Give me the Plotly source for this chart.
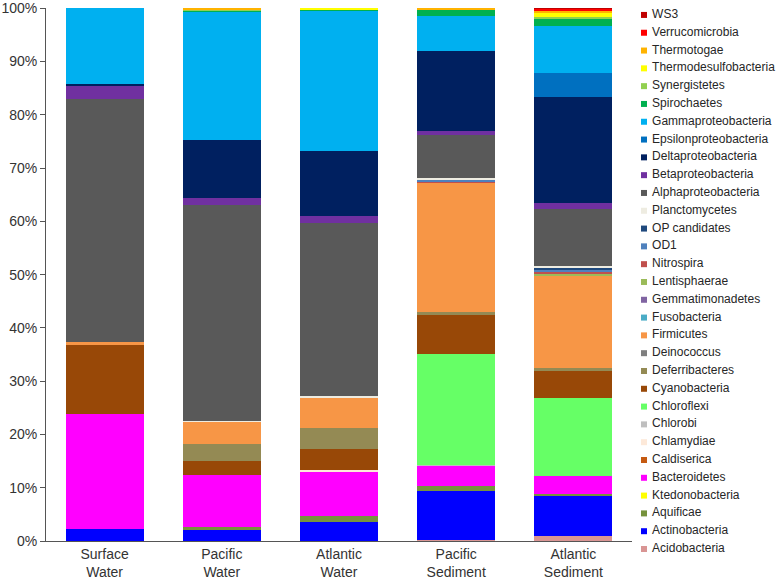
import plotly.graph_objects as go

samples = ["Surface<br>Water", "Pacific<br>Water", "Atlantic<br>Water", "Pacific<br>Sediment", "Atlantic<br>Sediment"]

# taxa listed bottom (first stacked) to top
taxa = ["Acidobacteria", "Actinobacteria", "Aquificae", "Ktedonobacteria", "Bacteroidetes",
        "Caldiserica", "Chlamydiae", "Chlorobi", "Chloroflexi", "Cyanobacteria",
        "Deferribacteres", "Deinococcus", "Firmicutes", "Fusobacteria", "Gemmatimonadetes",
        "Lentisphaerae", "Nitrospira", "OD1", "OP candidates", "Planctomycetes",
        "Alphaproteobacteria", "Betaproteobacteria", "Deltaproteobacteria", "Epsilonproteobacteria",
        "Gammaproteobacteria", "Spirochaetes", "Synergistetes", "Thermodesulfobacteria",
        "Thermotogae", "Verrucomicrobia", "WS3"]

colors = ["#D99594", "#0000FF", "#76923C", "#FFFF00", "#FF00FF",
          "#C55A11", "#FDE9D9", "#BFBFBF", "#66FF66", "#984807",
          "#948A54", "#7F7F7F", "#F79646", "#4BACC6", "#8064A2",
          "#9BBB59", "#C0504D", "#4F81BD", "#1F497D", "#EEECE1",
          "#595959", "#7030A0", "#002060", "#0070C0",
          "#00B0F0", "#00B050", "#92D050", "#FFFF00",
          "#FFB300", "#FF0000", "#C00000"]

surface_water = [0, 2.2, 0, 0, 21.6, 0, 0, 0, 0, 13.0,
                 0, 0, 0.6, 0, 0, 0, 0, 0, 0, 0,
                 45.5, 2.6, 0.3, 0, 14.2, 0, 0, 0, 0, 0, 0]
pacific_water = [0, 2.0, 0.6, 0, 9.7, 0, 0, 0, 0, 2.8,
                 3.1, 0, 4.2, 0, 0, 0, 0, 0, 0, 0.2,
                 40.5, 1.2, 11.0, 0, 24.1, 0.2, 0.1, 0, 0.3, 0, 0]
atlantic_water = [0, 3.6, 1.0, 0, 8.5, 0, 0.2, 0, 0, 3.9,
                  4.1, 0, 5.6, 0, 0, 0, 0, 0, 0, 0.4,
                  32.3, 1.4, 12.2, 0, 26.3, 0.2, 0, 0.3, 0, 0, 0]
pacific_sediment = [0.2, 9.2, 1.0, 0, 3.7, 0, 0, 0.1, 20.9, 7.3,
                    0.5, 0, 24.4, 0, 0, 0, 0.2, 0.3, 0, 0.4,
                    8.0, 0.8, 14.9, 0, 6.6, 1.1, 0, 0, 0.4, 0, 0]
atlantic_sediment = [0.9, 7.6, 0.4, 0, 3.3, 0, 0, 0, 14.6, 5.1,
                     0.5, 0, 17.4, 0, 0, 0.3, 0.4, 0.5, 0.2, 0.5,
                     10.6, 1.1, 19.9, 4.5, 8.8, 1.4, 0.3, 0.8, 0.4, 0.4, 0.2]

y_ticks = [0, 10, 20, 30, 40, 50, 60, 70, 80, 90, 100]
y_tick_labels = [f"{v}%" for v in y_ticks]

series = [surface_water, pacific_water, atlantic_water, pacific_sediment, atlantic_sediment]

fig = go.Figure()
for i, name in enumerate(taxa):
    fig.add_trace(go.Bar(
        x=samples, y=[s[i] for s in series], name=name,
        marker=dict(color=colors[i], line=dict(width=0)),
        showlegend=False, xaxis="x", yaxis="y"))

# legend drawn as a marker+text column on its own axis
fig.add_trace(go.Scatter(
    x=[0] * len(taxa), y=list(range(len(taxa))), mode="markers+text",
    text=["\u00a0" + t for t in taxa], textposition="middle right",
    textfont=dict(size=12, color="#262626", family="Liberation Sans, Arial, sans-serif"),
    marker=dict(symbol="square", size=6, color=colors),
    cliponaxis=False, showlegend=False, hoverinfo="skip",
    xaxis="x2", yaxis="y2"))

W_PLOT = 776 - 46
main_frac = 586 / W_PLOT
H_PLOT = 583 - 8 - 28
y_bottom = 14 / H_PLOT

fig.update_layout(
    width=776, height=583,
    margin=dict(l=46, r=0, t=8, b=28),
    template="none",
    barmode="stack", bargap=0.334,
    plot_bgcolor="white", paper_bgcolor="white",
    font=dict(family="Liberation Sans, Arial, sans-serif", size=14, color="#333333"),
    xaxis=dict(domain=[0, main_frac], showline=True, linecolor="#555555", linewidth=1,
               ticks="", showgrid=False, zeroline=False, automargin=False,
               tickfont=dict(size=14, color="#333333")),
    yaxis=dict(domain=[y_bottom, 1], range=[0, 100.05], tickmode="array", tickvals=y_ticks,
               ticktext=y_tick_labels,
               showline=True, linecolor="#555555", linewidth=1, ticks="outside", ticklen=5,
               tickcolor="#555555", showgrid=False, zeroline=False, automargin=False,
               tickfont=dict(size=14, color="#333333")),
    xaxis2=dict(domain=[main_frac, 1], range=[-0.1, 1.1], visible=False, anchor="y2"),
    yaxis2=dict(domain=[0, 1], range=[-0.337, 30.39], visible=False, anchor="x2"),
)

fig.write_html("out.html", config={"displayModeBar": False},
               post_script="document.body.style.margin='0';document.body.style.overflow='hidden';")
